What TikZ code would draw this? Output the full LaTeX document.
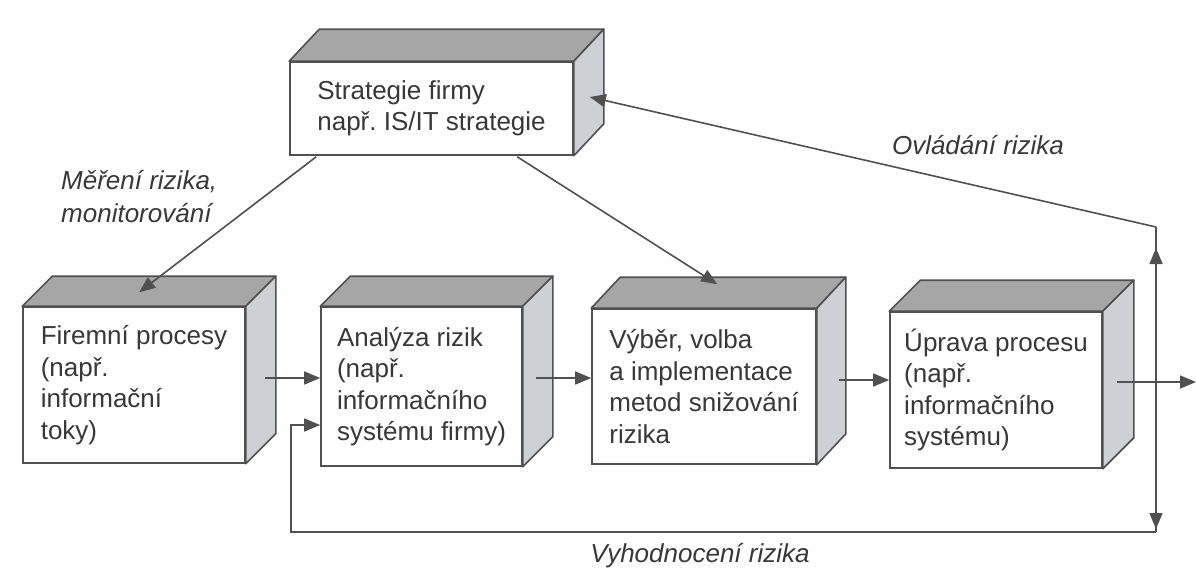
\documentclass[tikz,border=0pt]{standalone}
\usepackage{fontspec}
\setmainfont{Liberation Sans}
\usetikzlibrary{calc,arrows.meta}
\frenchspacing
\definecolor{linec}{HTML}{505050}
\definecolor{txtc}{HTML}{383838}
\definecolor{topc}{HTML}{A6A6A6}
\definecolor{sidec}{HTML}{CDD0D5}
\newcommand\boxfaces[3]{%
  \filldraw[topc,draw=linec,line width=1.6pt,line join=round] (#1.north west) -- ++(#2,-#3) -- ($(#1.north east)+(#2,-#3)$) -- (#1.north east) -- cycle;
  \filldraw[sidec,draw=linec,line width=1.6pt,line join=round] (#1.north east) -- ++(#2,-#3) -- ($(#1.south east)+(#2,-#3)$) -- (#1.south east) -- cycle;
}
\begin{document}
\begin{tikzpicture}[x=1pt,y=-1pt,
  front/.style={draw=linec,line width=1.6pt,fill=white,inner sep=0pt,align=left,
     text=txtc,font=\fontsize{26}{31.5}\selectfont},
  lab/.style={text=txtc,font=\fontsize{26}{31.5}\selectfont\itshape,inner sep=0pt},
  line/.style={draw=linec,line width=1.6pt},
  arr/.style={line,-{Triangle[length=16pt,width=13pt]}}]
\useasboundingbox (0,0) rectangle (1196,573);
% boxes
\node[front,minimum width=283pt,minimum height=93pt] (b0) at (431.5,108.5) {Strategie firmy\\např. IS/IT strategie};
\node[front,minimum width=222pt,minimum height=156pt] (b1) at (134,385) {Firemní procesy\\(např.\\informační\\toky)};
\node[front,minimum width=201pt,minimum height=159pt] (b2) at (421.5,386.5) {Analýza rizik\\(např.\\informačního\\systému firmy)};
\node[front,minimum width=224pt,minimum height=155pt] (b3) at (704,386.5) {Výběr, volba\\a implementace\\metod snižování\\rizika};
\node[front,minimum width=212pt,minimum height=156pt] (b4) at (996,390) {Úprava procesu\\(např.\\informačního\\systému)};
\boxfaces{b0}{30}{32}
\boxfaces{b1}{30}{30}
\boxfaces{b2}{30}{30}
\boxfaces{b3}{29}{31}
\boxfaces{b4}{31}{31}
% labels
\node[lab,anchor=west] (lm1) at (61,182) {Měření rizika,};
\node[lab,anchor=west] (lm2) at (61,213) {monitorování};
\node[lab] (lo) at (978,145) {Ovládání rizika};
\node[lab] (lv) at (700,556) {Vyhodnocení rizika};
% coordinates
\coordinate (vt) at (1156,227);
\coordinate (vm) at (1156,382);
\coordinate (vb) at (1156,532);
\coordinate (bl) at (291,532);
\coordinate (out) at (1196,382);
% row arrows
\draw[arr] ($(b1.east)+(19,-7)$) -- ($(b2.west)+(0,-8.5)$);
\draw[arr] ($(b2.east)+(13,-8.5)$) -- ($(b3.west)+(0,-8.5)$);
\draw[arr] ($(b3.east)+(22,-6.5)$) -- ($(b4.west)+(0,-10)$);
\draw[arr] ($(b4.east)+(14,-8)$) -- (out);
% feedback
\draw[line] (vt) -- (vb);
\draw[arr] (vm) -- ($(vt)+(0,21)$);
\draw[arr] (vm) -- ($(vb)+(0,-3)$);
\draw[arr] (vt) -- ($(b0.east)+(16,-11.5)$);
\draw[arr,line join=miter] (vb) -- (bl) |- ($(b2.west)+(0,38.5)$);
% diagonals
\draw[arr] ($(b0.south west)+(27,1)$) -- ($(b1.north west)+(117,-14)$);
\draw[arr] ($(b0.south west)+(228,1)$) -- ($(b3.north west)+(126,-24)$);
\end{tikzpicture}
\end{document}
